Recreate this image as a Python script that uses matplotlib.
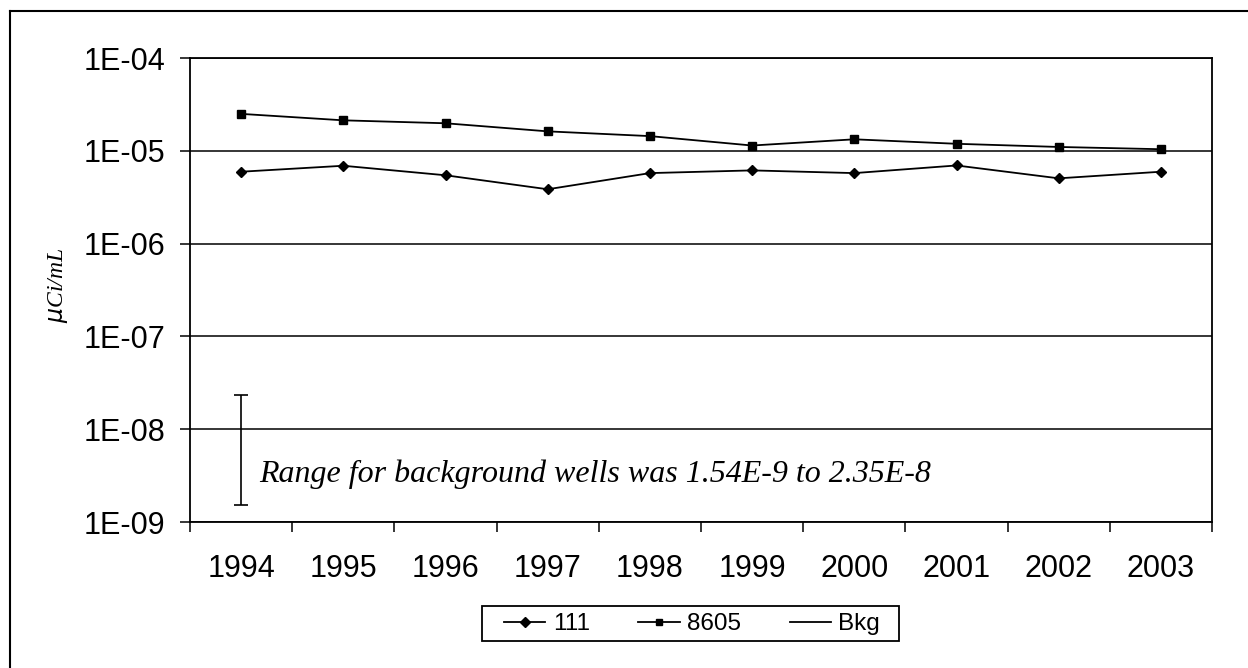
import matplotlib.pyplot as plt
from matplotlib.lines import Line2D
from matplotlib.patches import Rectangle

years = ['1994', '1995', '1996', '1997', '1998', '1999', '2000', '2001', '2002', '2003']
well_111 = [5.95e-6, 6.9e-6, 5.45e-6, 3.85e-6, 5.75e-6, 6.15e-6, 5.75e-6, 6.95e-6, 5.05e-6, 5.95e-6]
well_8605 = [2.5e-5, 2.13e-5, 1.98e-5, 1.62e-5, 1.44e-5, 1.14e-5, 1.33e-5, 1.19e-5, 1.1e-5, 1.04e-5]
bkg_low = 1.54e-9
bkg_high = 2.35e-8

plt.rcParams['font.family'] = ['Liberation Sans', 'DejaVu Sans']

W, H = 1248, 668
fig = plt.figure(figsize=(W/100, H/100), dpi=100)
ax = fig.add_axes([190/W, 146/H, 1022/W, 464/H])

x = list(range(len(years)))
ax.plot(x, well_111, color='black', lw=1.3, marker='D', ms=5.6, label='111')
ax.plot(x, well_8605, color='black', lw=1.3, marker='s', ms=5.5, label='8605')
# background range drawn as an error bar at the first year
ax.errorbar([0], [bkg_low], yerr=[[0], [bkg_high - bkg_low]], fmt='none',
            ecolor='black', elinewidth=1.2, capsize=4.7, capthick=1.2)

ax.set_yscale('log')
ax.set_ylim(1e-9, 1e-4)
ax.set_xlim(-0.5, len(years) - 0.5)
ax.set_yticks([1e-9, 1e-8, 1e-7, 1e-6, 1e-5, 1e-4])
ax.set_yticklabels(['1E-09', '1E-08', '1E-07', '1E-06', '1E-05', '1E-04'])
ax.yaxis.set_minor_locator(plt.NullLocator())
ax.grid(axis='y', which='major', color='black', lw=1.1)

ax.set_xticks(x)
ax.set_xticklabels(years)
ax.set_xticks([i - 0.5 for i in range(len(years) + 1)], minor=True)
ax.tick_params(axis='x', which='major', length=0, pad=23, labelsize=22)
ax.tick_params(axis='x', which='minor', length=7.5, width=1.1, direction='out')
ax.tick_params(axis='y', which='major', length=7.5, width=1.1, direction='out', pad=10, labelsize=22)
for s in ax.spines.values():
    s.set_linewidth(1.3)

ax.set_ylabel(r'$\mu$Ci/mL', family='Liberation Serif', style='italic', fontsize=17)
ax.yaxis.set_label_coords(-0.117, 0.51)

ax.text(0.18, 2.7e-9, 'Range for background wells was 1.54E-9 to 2.35E-8',
        family='Liberation Serif', style='italic', fontsize=23, va='baseline')

handles = [Line2D([], [], color='black', lw=1.3, marker='D', ms=5),
           Line2D([], [], color='black', lw=1.3, marker='s', ms=4.5),
           Line2D([], [], color='black', lw=1.3)]
leg = fig.legend(handles, ['111', '8605', 'Bkg'], loc='center', bbox_to_anchor=(692/W, 44/H),
                 ncol=3, fontsize=17.5, frameon=False,
                 handlelength=1.7, handletextpad=0.3, columnspacing=2.0, borderpad=0.2)
fig.add_artist(Rectangle((482/W, 27/H), 417/W, 35/H, transform=fig.transFigure,
                         fill=False, edgecolor='black', lw=1.3))

# outer chart border
fig.add_artist(Line2D([10/W, 10/W], [0, 657/H], color='black', lw=1.5, transform=fig.transFigure))
fig.add_artist(Line2D([10/W, 1], [657/H, 657/H], color='black', lw=1.5, transform=fig.transFigure))

plt.savefig('out.png', dpi=100)
